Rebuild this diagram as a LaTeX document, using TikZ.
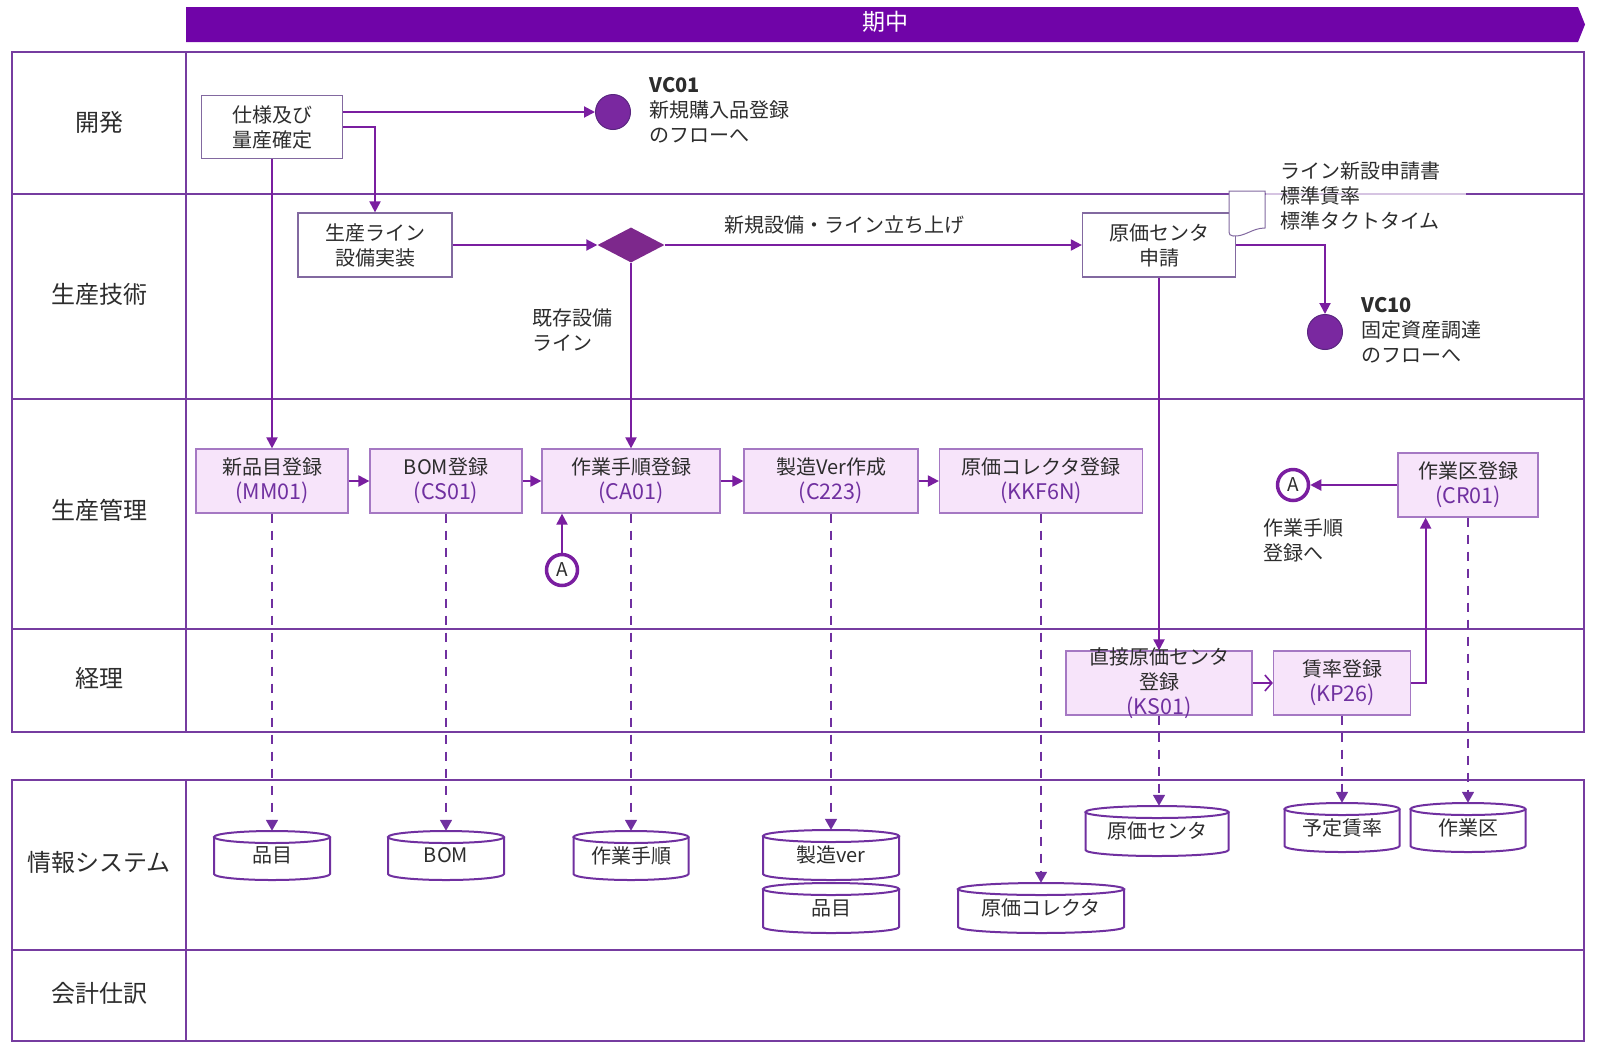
\documentclass[tikz,border=0pt]{standalone}
\usepackage{fontspec}
\setmainfont{Noto Sans CJK JP}
\usetikzlibrary{arrows.meta,shapes.geometric,calc}

\definecolor{hdr}{RGB}{112,4,168}
\definecolor{lane}{RGB}{118,60,160}
\definecolor{flow}{RGB}{122,30,160}
\definecolor{boxline}{RGB}{130,105,160}
\definecolor{sapfill}{RGB}{247,228,250}
\definecolor{sapline}{RGB}{165,120,195}
\definecolor{code}{RGB}{112,48,160}
\definecolor{ink}{RGB}{45,45,45}
\definecolor{dot}{RGB}{122,40,160}
\definecolor{diam}{RGB}{125,40,140}

\newcommand\sapcode[1]{{\fontsize{21.5}{25}\selectfont\textcolor{code}{(#1)}}}

% database cylinder: name, centre x, top y, width, height, text
\newcommand\dbcyl[6]{%
  \pgfmathsetmacro\cyA{#4/2}%
  \pgfmathsetmacro\cyL{#2-\cyA}%
  \pgfmathsetmacro\cyR{#2+\cyA}%
  \pgfmathsetmacro\cyT{#3+6}%
  \pgfmathsetmacro\cyB{#3+#5}%
  \pgfmathsetmacro\cyBb{#3+#5-6}%
  \pgfmathsetmacro\cyk{0.5523*\cyA}%
  \draw[cyl] (\cyL,\cyT) -- (\cyL,\cyBb)
     .. controls (\cyL,\cyBb+3.3) and (#2-\cyk,\cyB) .. (#2,\cyB)
     .. controls (#2+\cyk,\cyB) and (\cyR,\cyBb+3.3) .. (\cyR,\cyBb) -- (\cyR,\cyT);
  \draw[cyl] (#2,\cyT) ellipse [x radius=\cyA pt, y radius=6pt];
  \node[cyltext, minimum width=#4pt, minimum height=#5pt] (#1) at (#2,#3+#5/2) {#6};
}

\begin{document}
\begin{tikzpicture}[x=1pt,y=-1pt,
  every node/.style={text=ink, font=\fontsize{20}{25}\selectfont},
  lanetitle/.style={font=\fontsize{24}{28}\selectfont},
  laneline/.style={draw=lane, line width=2pt},
  plainbox/.style={draw=boxline, line width=1.2pt, fill=white, align=center, inner sep=2pt},
  sapbox/.style={draw=sapline, line width=1.2pt, fill=sapfill, align=center, inner sep=2pt, minimum height=64pt},
  dotnode/.style={circle, fill=dot, draw=code!80!black, line width=1pt, minimum size=35pt, inner sep=0pt},
  conn/.style={circle, draw=flow, line width=3.5pt, fill=white, minimum size=31pt, inner sep=0pt, font=\fontsize{19}{20}\selectfont},
  cyl/.style={draw=code, line width=2pt},
  cyltext/.style={inner sep=0pt},
  arr/.style={draw=flow, line width=2pt, -{Triangle[length=11pt,width=11pt]}},
  dasharr/.style={draw=code, line width=1.6pt, dash pattern=on 9pt off 8pt, -{Triangle[length=11pt,width=12pt]}},
  openarr/.style={draw=flow, line width=1.6pt, -{Straight Barb[length=7pt,width=16pt]}}
]
\useasboundingbox (0,0) rectangle (1600,1050);

% period banner
\fill[hdr] (186,7) -- (1578,7) -- (1585,24.5) -- (1578,42) -- (186,42) -- cycle;
\node[text=white, font=\fontsize{23}{28}\selectfont] (period) at (885,22) {期中};

% swimlane frames
\draw[laneline] (12,52) rectangle (1584,732);
\draw[laneline] (186,52) -- (186,732);
\draw[laneline] (12,194) -- (1584,194);
\draw[laneline] (12,399) -- (1584,399);
\draw[laneline] (12,629) -- (1584,629);
\draw[laneline] (12,780) rectangle (1584,1041);
\draw[laneline] (186,780) -- (186,1041);
\draw[laneline] (12,950) -- (1584,950);

% lane titles
\node[lanetitle] (l1) at (99,122) {開発};
\node[lanetitle] (l2) at (99,294) {生産技術};
\node[lanetitle] (l3) at (99,510) {生産管理};
\node[lanetitle] (l4) at (99,678) {経理};
\node[lanetitle] (l5) at (99,862) {情報システム};
\node[lanetitle] (l6) at (99,993) {会計仕訳};

% development / engineering
\node[plainbox, minimum width=141pt, minimum height=63pt] (spec) at (272,127) {仕様及び\\量産確定};
\node[dotnode] (vc01) at (613,112) {};
\node[anchor=west, align=left] (vc01t) at (646,110) {\textbf{VC01}\\新規購入品登録\\のフローへ};

\node[plainbox, minimum width=154pt, minimum height=64pt] (line) at (375,245) {生産ライン\\設備実装};
\node[diamond, fill=diam, minimum width=67pt, minimum height=35pt, inner sep=0pt] (dia) at (631,245) {};
\node[plainbox, minimum width=153pt, minimum height=64pt] (gcs) at (1159,245) {原価センタ\\申請};
\node[dotnode] (vc10) at (1325,332) {};
\node[anchor=west, align=left] (vc10t) at (1358,330) {\textbf{VC10}\\固定資産調達\\のフローへ};
\node[anchor=west, align=left] (kizon) at (529,330) {既存設備\\ライン};

% attached document
\filldraw[draw=boxline, fill=white, line width=1pt]
  (1229,191) -- (1265,191) -- (1265,228)
  .. controls (1252,228) and (1245,237) .. (1233,236)
  .. controls (1230,236) and (1229,234) .. (1229,232) -- cycle;
\fill[white, opacity=0.7] (1266,190) rectangle (1466,199);
\node[anchor=west, align=left, inner sep=0pt] (doct) at (1280,196) {ライン新設申請書\\標準賃率\\標準タクトタイム};

% production control
\node[sapbox, minimum width=152pt] (mm01) at (272,481) {新品目登録\\\sapcode{MM01}};
\node[sapbox, minimum width=152pt] (cs01) at (446,481) {BOM登録\\\sapcode{CS01}};
\node[sapbox, minimum width=178pt] (ca01) at (631,481) {作業手順登録\\\sapcode{CA01}};
\node[sapbox, minimum width=174pt] (c223) at (831,481) {製造Ver作成\\\sapcode{C223}};
\node[sapbox, minimum width=203pt] (kkf6n) at (1041,481) {原価コレクタ登録\\\sapcode{KKF6N}};
\node[sapbox, minimum width=140pt] (cr01) at (1468,485) {作業区登録\\\sapcode{CR01}};
\node[conn] (aL) at (562,570) {A};
\node[conn] (aR) at (1293,485) {A};
\node[anchor=west, align=left] (aRt) at (1260,540) {作業手順\\登録へ};

% accounting
\node[sapbox, minimum width=186pt] (ks01) at (1159,683) {};
\node[align=center, inner sep=0pt] (ks01t) at (ks01) {直接原価センタ\\登録\\\sapcode{KS01}};
\node[sapbox, minimum width=137pt] (kp26) at (1342,683) {賃率登録\\\sapcode{KP26}};

% master data
\dbcyl{db1}{272}{831}{116}{49}{品目}
\dbcyl{db2}{446}{831}{116}{49}{BOM}
\dbcyl{db3}{631}{831}{115}{49}{作業手順}
\dbcyl{db4}{831}{830}{136}{50}{製造ver}
\dbcyl{db5}{831}{883}{136}{50}{品目}
\dbcyl{db6}{1041}{883}{166}{50}{原価コレクタ}
\dbcyl{db7}{1157}{806}{143}{50}{原価センタ}
\dbcyl{db8}{1342}{803}{115}{49}{予定賃率}
\dbcyl{db9}{1468}{803}{115}{49}{作業区}

% process flow
\draw[arr] (spec.east |- vc01) -- (vc01);
\draw[arr] (spec.east) -| (line.north);
\draw[arr] (spec.south) -- (mm01.north);
\draw[arr] (line.east) -- (dia.west);
\draw[arr] (dia.east) -- node[pos=0.43, yshift=20pt] {新規設備・ライン立ち上げ} (gcs.west);
\draw[arr] (dia.south) -- (dia.south |- ca01.north);
\draw[arr] (gcs.east) -| (vc10.north);
\draw[arr] (gcs.south) -- (gcs.south |- ks01.north);
\draw[arr] (mm01.east) -- (cs01.west);
\draw[arr] (cs01.east) -- (ca01.west);
\draw[arr] (ca01.east) -- (c223.west);
\draw[arr] (c223.east) -- (kkf6n.west);
\draw[arr] (aL.north) -- (aL.north |- ca01.south);
\draw[arr] (cr01.west) -- (aR.east);
\draw[openarr] (ks01.east) -- (kp26.west);
\draw[arr] (kp26.east) -| ($(cr01.south west)!0.2!(cr01.south east)$);

% master data updates
\draw[dasharr] (mm01.south) -- (mm01.south |- db1.north);
\draw[dasharr] (cs01.south) -- (cs01.south |- db2.north);
\draw[dasharr] (ca01.south) -- (ca01.south |- db3.north);
\draw[dasharr] (c223.south) -- (c223.south |- db4.north);
\draw[dasharr] (kkf6n.south) -- (kkf6n.south |- db6.north);
\draw[dasharr] (ks01.south) -- (ks01.south |- db7.north);
\draw[dasharr] (kp26.south) -- (kp26.south |- db8.north);
\draw[dasharr] (cr01.south) -- (cr01.south |- db9.north);
\end{tikzpicture}
\end{document}
